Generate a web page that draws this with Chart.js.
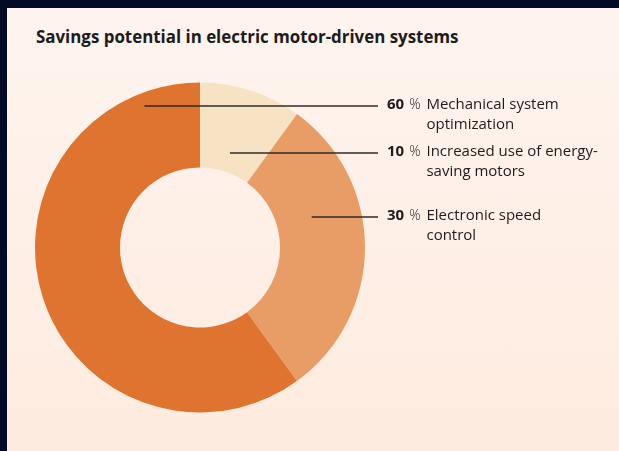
<!DOCTYPE html>
<html>
<head>
<meta charset="utf-8">
<script src="https://cdn.jsdelivr.net/npm/chart.js@4/dist/chart.umd.min.js"></script>
<style>
  html, body { margin:0; padding:0; width:619px; height:451px; overflow:hidden; background:#020a26; }
  .panel { position:absolute; left:7px; top:8px; width:612px; height:443px;
           background:linear-gradient(#fef4ef, #feebdf); }
  .title { position:absolute; left:36px; top:26px; font:700 16.9px "Open Sans", sans-serif;
           color:#1c1c1c; line-height:22px; white-space:nowrap; }
  canvas { position:absolute; left:0; top:0; }
</style>
</head>
<body>
<div class="panel"></div>
<div class="title">Savings potential in electric motor-driven systems</div>
<canvas id="donut" width="619" height="451"></canvas>
<script>
// data, clockwise from 12 o'clock
const shares = [10, 30, 60];
const shareLabels = [
  ['Increased use of energy-', 'saving motors'],
  ['Electronic speed', 'control'],
  ['Mechanical system', 'optimization']
];
const sliceColors = ['#f7e2c3', '#e99d66', '#df7330'];

// leader line anchors: fraction along the arc angle / ring thickness, and line y
const anchors = [
  { t: 0.49, r: 0.22, y: 153 },
  { t: 0.36, r: 0.42, y: 217 },
  { t: 0.90, r: 0.835, y: 106 }
];
const lineEndX = 378;

const leaderLabels = {
  id: 'leaderLabels',
  afterDatasetsDraw(chart) {
    const ctx = chart.ctx;
    const arcs = chart.getDatasetMeta(0).data;
    arcs.forEach((arc, i) => {
      const p = arc.getProps(['x', 'y', 'startAngle', 'endAngle', 'innerRadius', 'outerRadius'], true);
      const a = anchors[i];
      const ang = p.startAngle + (p.endAngle - p.startAngle) * a.t;
      const rad = p.innerRadius + (p.outerRadius - p.innerRadius) * a.r;
      const sx = p.x + rad * Math.cos(ang);
      const y = a.y;
      ctx.save();
      ctx.strokeStyle = '#2b2b2b';
      ctx.lineWidth = 1.5;
      ctx.beginPath();
      ctx.moveTo(sx, y);
      ctx.lineTo(lineEndX, y);
      ctx.stroke();

      ctx.textBaseline = 'middle';
      ctx.fillStyle = '#1c1c1c';
      let x = lineEndX + 9;
      ctx.font = '700 15px "Open Sans", sans-serif';
      const num = String(shares[i]);
      ctx.fillText(num, x, y - 1);
      x += ctx.measureText(num).width + 5;
      ctx.font = '300 14px "Open Sans", sans-serif';
      ctx.fillText('%', x, y - 1);
      x += ctx.measureText('%').width + 6;
      ctx.font = '400 15px "Open Sans", sans-serif';
      shareLabels[i].forEach((line, k) => ctx.fillText(line, x, y - 1 + k * 20));
      ctx.restore();
    });
  }
};

new Chart(document.getElementById('donut'), {
  type: 'doughnut',
  data: {
    labels: shareLabels.map(l => l.join(' ')),
    datasets: [{
      data: shares,
      backgroundColor: sliceColors,
      borderWidth: 0
    }]
  },
  options: {
    responsive: false,
    animation: false,
    cutout: '48.5%',
    layout: { padding: { left: 35, top: 82.5, right: 254, bottom: 38.5 } },
    plugins: { legend: { display: false }, tooltip: { enabled: false } }
  },
  plugins: [leaderLabels]
});
</script>
</body>
</html>
